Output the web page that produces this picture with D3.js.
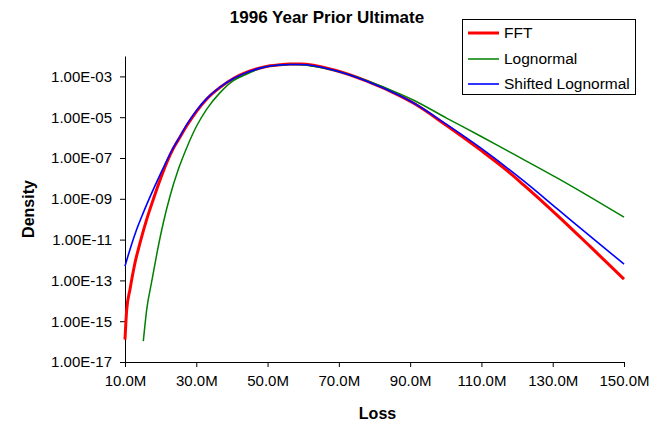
<!DOCTYPE html>
<html>
<head>
<meta charset="utf-8">
<script src="https://cdn.jsdelivr.net/npm/d3@7"></script>
<style>
  html, body { margin: 0; padding: 0; background: #fff; }
  svg { display: block; font-family: Arial, "Liberation Sans", sans-serif; }
</style>
</head>
<body>
<svg id="chart" width="656" height="424"></svg>
<script>
// ---- data (loss in millions, density) ----
const fftLoss = [10.0, 10.48, 11.40, 12.81, 14.21, 16.09, 17.95, 19.83, 21.71, 23.56, 25.44, 27.32, 30.13, 32.94, 36.67, 40.41, 44.17, 47.91, 50.71, 53.52, 56.33, 59.14, 68.40, 77.87, 87.29, 91.0, 100.33, 109.68, 117.62, 121.84, 131.21, 140.56, 150.0];
const fftDensity = [1.26e-16, 3.7e-15, 3.6e-14, 7.3e-13, 6.9e-12, 9.8e-11, 9.5e-10, 8.3e-9, 5.9e-8, 2.95e-7, 1.07e-6, 3.8e-6, 2.0e-5, 7.8e-5, 2.9e-4, 7.9e-4, 1.6e-3, 2.6e-3, 3.3e-3, 3.7e-3, 4.0e-3, 4.0e-3, 2.1e-3, 5.8e-4, 1.07e-4, 4.8e-5, 3.8e-6, 2.5e-7, 2.1e-8, 4.8e-9, 1.6e-10, 4.5e-12, 1.15e-13];

const lognLoss = [15.14, 16.09, 17.50, 18.90, 20.75, 22.64, 24.97, 27.32, 30.13, 32.94, 36.67, 40.41, 44.17, 47.91, 50.71, 53.52, 56.33, 59.14, 68.40, 77.87, 87.29, 91.0, 100.33, 109.68, 117.62, 131.21, 140.56, 150.0];
const lognDensity = [1.05e-16, 3.7e-15, 8.9e-14, 1.9e-12, 6.7e-11, 1.38e-9, 2.8e-8, 3.2e-7, 3.8e-6, 2.5e-5, 1.6e-4, 6.2e-4, 1.3e-3, 2.5e-3, 3.2e-3, 3.65e-3, 3.8e-3, 3.7e-3, 2.0e-3, 6.2e-4, 1.35e-4, 6.8e-5, 8.8e-6, 1.2e-6, 2.1e-7, 1.05e-8, 1.2e-9, 1.25e-10];

const shiftLoss = [10.0, 11.40, 13.29, 15.14, 17.95, 20.75, 23.56, 25.44, 27.32, 30.13, 32.94, 36.67, 40.41, 44.17, 47.91, 50.71, 53.52, 56.33, 59.14, 68.40, 77.87, 87.29, 91.0, 100.33, 109.68, 121.84, 131.21, 140.56, 150.0];
const shiftDensity = [5.0e-13, 3.3e-12, 3.2e-11, 2.1e-10, 2.9e-9, 3.3e-8, 3.2e-7, 1.15e-6, 4.3e-6, 2.2e-5, 8.1e-5, 2.95e-4, 7.9e-4, 1.55e-3, 2.55e-3, 3.25e-3, 3.65e-3, 3.8e-3, 3.8e-3, 2.05e-3, 5.8e-4, 1.1e-4, 5.0e-5, 4.3e-6, 3.2e-7, 7.5e-9, 3.3e-10, 1.44e-11, 6.3e-13];

const seriesNames = ["FFT", "Lognormal", "Shifted Lognormal"];
const seriesColors = ["#FF0000", "#008000", "#0000FF"];
const seriesWidths = [3, 1.5, 1.6];

const xTicks = [10, 30, 50, 70, 90, 110, 130, 150];
const xTickLabels = ["10.0M", "30.0M", "50.0M", "70.0M", "90.0M", "110.0M", "130.0M", "150.0M"];
const yTicks = [1e-17, 1e-15, 1e-13, 1e-11, 1e-9, 1e-7, 1e-5, 1e-3];
const yTickLabels = ["1.00E-17", "1.00E-15", "1.00E-13", "1.00E-11", "1.00E-09", "1.00E-07", "1.00E-05", "1.00E-03"];

// ---- layout ----
const svg = d3.select("#chart");
const L = 125, R = 624, T = 56, B = 362;

const x = d3.scaleLinear().domain([10, 150]).range([L, R]);
const y = d3.scaleLog().domain([1e-17, 1e-2]).range([B, T]);

// title
svg.append("text")
  .attr("x", 327).attr("y", 23)
  .attr("text-anchor", "middle")
  .attr("font-size", 17).attr("font-weight", "bold")
  .text("1996 Year Prior Ultimate");

// axes
const xAxis = d3.axisBottom(x)
  .tickValues(xTicks)
  .tickFormat((d, i) => xTickLabels[i])
  .tickSize(5).tickSizeOuter(0).tickPadding(8);
const gx = svg.append("g").attr("transform", `translate(0,${B})`).call(xAxis);

const yAxis = d3.axisLeft(y)
  .tickValues(yTicks)
  .tickFormat((d, i) => yTickLabels[i])
  .tickSize(5).tickSizeOuter(0).tickPadding(8);
const gy = svg.append("g").attr("transform", `translate(${L},0)`).call(yAxis);

[gx, gy].forEach(g => {
  g.selectAll("text").attr("font-size", 15).attr("fill", "#000")
    .attr("font-family", "Arial, 'Liberation Sans', sans-serif");
  g.selectAll("line").attr("stroke", "#000");
  g.select(".domain").attr("stroke", "#000");
});
gx.selectAll("text").attr("dy", "0.71em");

// axis titles
svg.append("text")
  .attr("x", (L + R) / 2 + 3).attr("y", 419)
  .attr("text-anchor", "middle")
  .attr("font-size", 16).attr("font-weight", "bold")
  .text("Loss");
svg.append("text")
  .attr("transform", `translate(34,${(T + B) / 2}) rotate(-90)`)
  .attr("text-anchor", "middle")
  .attr("font-size", 16).attr("font-weight", "bold")
  .text("Density");

// series
const seriesData = [
  fftLoss.map((v, i) => [v, fftDensity[i]]),
  lognLoss.map((v, i) => [v, lognDensity[i]]),
  shiftLoss.map((v, i) => [v, shiftDensity[i]])
];
const line = d3.line()
  .x(d => x(d[0])).y(d => y(d[1]))
  .curve(d3.curveMonotoneX);

seriesData.forEach((data, i) => {
  svg.append("path")
    .datum(data)
    .attr("fill", "none")
    .attr("stroke", seriesColors[i])
    .attr("stroke-width", seriesWidths[i])
    .attr("stroke-linejoin", "round")
    .attr("d", line);
});

// legend
const lg = svg.append("g");
lg.append("rect")
  .attr("x", 462.5).attr("y", 19.5).attr("width", 173).attr("height", 75)
  .attr("fill", "#fff").attr("stroke", "#000").attr("stroke-width", 1);
const rowY = [33, 59, 84];
seriesNames.forEach((name, i) => {
  lg.append("line")
    .attr("x1", 468).attr("x2", 499)
    .attr("y1", rowY[i]).attr("y2", rowY[i])
    .attr("stroke", seriesColors[i])
    .attr("stroke-width", seriesWidths[i]);
  lg.append("text")
    .attr("x", 504).attr("y", rowY[i])
    .attr("dy", "0.35em")
    .attr("font-size", 15.5)
    .text(name);
});
</script>
</body>
</html>
